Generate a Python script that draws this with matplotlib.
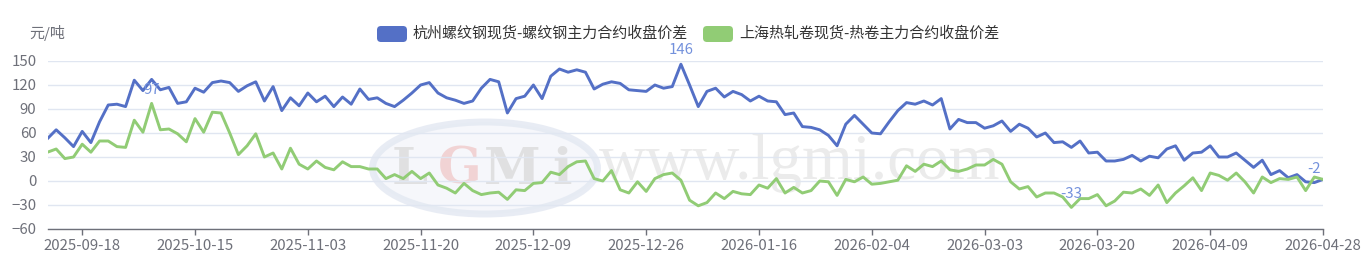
import numpy as np
import pandas as pd
import matplotlib
matplotlib.use('Agg')
import matplotlib.pyplot as plt
from matplotlib.patches import FancyBboxPatch, Ellipse

plt.rcParams['font.family'] = ['Noto Sans CJK SC', 'DejaVu Sans']

# trading days (SHFE calendar), holidays removed
holidays = ['2025-10-01', '2025-10-02', '2025-10-03', '2025-10-06', '2025-10-07', '2025-10-08',
            '2026-01-01', '2026-01-02',
            '2026-02-16', '2026-02-17', '2026-02-18', '2026-02-19', '2026-02-20', '2026-02-23',
            '2026-04-06']
dates = pd.bdate_range('2025-09-12', '2026-04-28')
dates = dates[~dates.isin(pd.to_datetime(holidays))]

series_names = ['杭州螺纹钢现货-螺纹钢主力合约收盘价差', '上海热轧卷现货-热卷主力合约收盘价差']

rebar = [53, 64, 54, 43, 62, 48, 74, 95, 96, 93,
         126, 113, 127, 114, 117, 97, 99, 116, 111, 123,
         125, 123, 112, 119, 124, 100, 118, 88, 104, 94,
         110, 99, 106, 93, 105, 96, 115, 102, 104, 97,
         93, 101, 110, 120, 123, 110, 104, 101, 97, 100,
         116, 127, 124, 85, 103, 106, 120, 103, 131, 140,
         136, 139, 136, 115, 121, 124, 122, 114, 113, 112,
         120, 116, 118, 146, 120, 93, 112, 116, 105, 112,
         108, 100, 106, 100, 99, 83, 85, 68, 67, 64,
         57, 44, 71, 82, 71, 60, 59, 74, 88, 98,
         96, 100, 95, 103, 65, 77, 73, 73, 66, 69,
         75, 62, 71, 66, 55, 60, 48, 49, 42, 50,
         35, 36, 25, 25, 27, 32, 25, 31, 29, 40,
         44, 26, 35, 36, 44, 30, 30, 35, 26, 17,
         26, 8, 13, 4, 8, -1, -2, 2]

hrc = [36, 40, 28, 30, 46, 36, 50, 50, 43, 42,
       76, 61, 97, 64, 65, 59, 49, 78, 61, 86,
       85, 60, 33, 44, 59, 30, 35, 15, 41, 21,
       15, 25, 17, 14, 24, 18, 18, 15, 15, 3,
       8, 3, 12, 3, 10, -5, -9, -15, -3, -12,
       -17, -15, -14, -23, -11, -12, -3, -2, 11, 8,
       18, 24, 25, 3, 0, 13, -11, -15, -1, -13,
       3, 8, 10, 1, -24, -31, -27, -15, -22, -13,
       -16, -17, -5, -9, 3, -15, -8, -15, -12, 0,
       -1, -18, 2, -1, 5, -4, -3, -1, 1, 19,
       12, 21, 18, 25, 14, 12, 15, 20, 20, 27,
       21, -1, -10, -7, -20, -15, -15, -20, -33, -22,
       -22, -17, -31, -25, -14, -15, -10, -18, -5, -27,
       -15, -6, 4, -12, 10, 7, 1, 10, -1, -15,
       5, -2, 3, 2, 5, -12, 5, 2]

colors = ['#5470c6', '#91cc75']
label_color = '#7391dc'
axis_color = '#6e7079'

W, H = 1369, 276
fig = plt.figure(figsize=(W / 100, H / 100), dpi=100)

# overlay in pixel coords for watermark / legend / unit
ov = fig.add_axes([0, 0, 1, 1])
ov.set_xlim(0, W)
ov.set_ylim(H, 0)
ov.axis('off')
ov.set_zorder(1)

ax = fig.add_axes([47.5 / W, 47 / H, (1323 - 47.5) / W, 168 / H])
ax.set_zorder(2)
ax.patch.set_alpha(0)

# faint watermark (logo ring + letters + url)
ov.add_patch(Ellipse((485, 168), 225, 92, facecolor='#f4f6fa', edgecolor='#e3e8f2', lw=5, alpha=0.8))
for ch, cx, c in zip('LGMi', [410, 460, 512, 562], ['#d9d9d9', '#f0c8c8', '#d9d9d9', '#d9d9d9']):
    ov.text(cx, 170, ch, fontsize=37, fontweight='bold', family='DejaVu Serif',
            color=c, ha='center', va='center', alpha=0.75)
ov.text(800, 163, 'www.lgmi.com', fontsize=47, family='Liberation Serif',
        color='#e6e6e6', ha='center', va='center', alpha=0.8)

x = np.arange(len(dates))
ax.plot(x, rebar, color=colors[0], lw=2.1, zorder=3)
ax.plot(x, hrc, color=colors[1], lw=2.1, zorder=3)

# max / min labels, echarts style
marks = [(rebar, np.argmax(rebar)), (rebar, np.argmin(rebar)),
         (hrc, np.argmax(hrc)), (hrc, np.argmin(hrc))]
for ser, i in marks:
    ax.annotate(str(ser[i]), (x[i], ser[i]), xytext=(0, 10), textcoords='offset points',
                ha='center', va='center', fontsize=10.8, color=label_color, zorder=4)

ax.set_xlim(0, len(dates) - 1)
ax.set_ylim(-60, 150)
ax.set_yticks(np.arange(-60, 151, 30))
tick_idx = x[4::13]
ax.set_xticks(tick_idx)
ax.set_xticklabels([dates[i].strftime('%Y-%m-%d') for i in tick_idx])
ax.grid(axis='y', color='#e0e6f1', lw=1)
ax.set_axisbelow(True)
for s in ['top', 'left', 'right']:
    ax.spines[s].set_visible(False)
ax.spines['bottom'].set_color(axis_color)
ax.spines['bottom'].set_linewidth(1)
ax.tick_params(axis='x', colors=axis_color, labelsize=10.8, length=4, width=1, pad=3)
ax.tick_params(axis='y', colors=axis_color, labelsize=10.8, length=0, pad=8)

# unit and legend
ov.text(47, 33, '元/吨', fontsize=10.8, color=axis_color, ha='center', va='center')
leg_x = [377, 703]
for lx, c, name in zip(leg_x, colors, series_names):
    ov.add_patch(FancyBboxPatch((lx, 26), 30, 16, boxstyle='round,pad=0,rounding_size=4',
                                facecolor=c, edgecolor='none'))
    ov.text(lx + 36, 33.5, name, fontsize=10.8, color='#333333', ha='left', va='center')

fig.savefig('out.png', dpi=100)
